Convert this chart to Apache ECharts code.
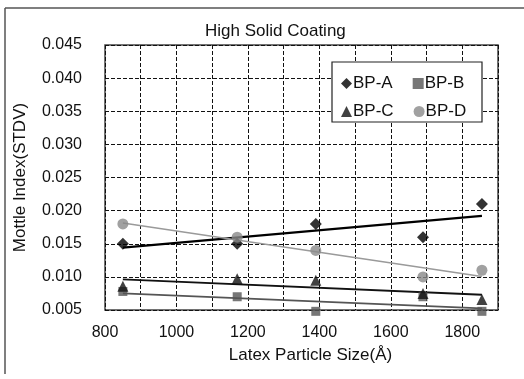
<!DOCTYPE html>
<html>
<head>
<meta charset="utf-8">
<script src="https://cdn.jsdelivr.net/npm/echarts@6/dist/echarts.min.js"></script>
<style>
html,body{margin:0;padding:0;background:#fff;}
#chart{width:524px;height:379px;}
</style>
</head>
<body>
<div id="chart"></div>
<script>
// Data
var particleSize = [850, 1170, 1390, 1690, 1855];
var bpA = [0.015, 0.015, 0.018, 0.016, 0.021];
var bpB = [0.0078, 0.007, 0.0048, 0.007, 0.0048];
var bpC = [0.0086, 0.0097, 0.0095, 0.0075, 0.0066];
var bpD = [0.018, 0.016, 0.014, 0.010, 0.011];
var seriesNames = ['BP-A', 'BP-B', 'BP-C', 'BP-D'];
var yTicks = [0.005, 0.010, 0.015, 0.020, 0.025, 0.030, 0.035, 0.040, 0.045];
var xLabelTicks = [800, 1000, 1200, 1400, 1600, 1800];

// linear trend line (least squares) endpoints from the data
function trend(xs, ys) {
  var n = xs.length, mx = 0, my = 0;
  for (var i = 0; i < n; i++) { mx += xs[i]; my += ys[i]; }
  mx /= n; my /= n;
  var sxy = 0, sxx = 0;
  for (var j = 0; j < n; j++) { sxy += (xs[j] - mx) * (ys[j] - my); sxx += (xs[j] - mx) * (xs[j] - mx); }
  var b = sxy / sxx, a = my - b * mx;
  var x0 = xs[0], x1 = xs[n - 1];
  return [[x0, a + b * x0], [x1, a + b * x1]];
}
function pts(xs, ys) { return xs.map(function (x, i) { return [x, ys[i]]; }); }

var font = 'Liberation Sans, Arial, sans-serif';
var styles = [
  {color: '#000000', symbol: 'diamond', size: 12, lw: 2.2, lc: '#000000'},
  {color: '#555555', symbol: 'rect', size: 9, lw: 1.8, lc: '#555555'},
  {color: '#111111', symbol: 'triangle', size: 11, lw: 1.8, lc: '#111111'},
  {color: '#8a8a8a', symbol: 'circle', size: 11, lw: 1.5, lc: '#9a9a9a'}
];
var dataSets = [bpA, bpB, bpC, bpD];

var series = [];
dataSets.forEach(function (ys, k) {
  var st = styles[k];
  series.push({
    name: seriesNames[k] + ' trend', type: 'line', data: trend(particleSize, ys),
    showSymbol: false, symbol: 'none', silent: true, z: 3, clip: false,
    lineStyle: {color: st.lc, width: st.lw}
  });
});
dataSets.forEach(function (ys, k) {
  var st = styles[k];
  series.push({
    name: seriesNames[k], type: 'scatter', data: pts(particleSize, ys),
    symbol: st.symbol, symbolSize: st.size, z: 4, clip: false,
    itemStyle: {color: st.color}
  });
});

var chart = echarts.init(document.getElementById('chart'), null, {renderer: 'canvas'});
chart.setOption({
  animation: false,
  backgroundColor: '#ffffff',
  title: {
    text: 'High Solid Coating', left: 200, top: 18,
    textStyle: {fontFamily: font, fontSize: 17, fontWeight: 'normal', color: '#111'}
  },
  graphic: [
    {type: 'line', shape: {x1: 5, y1: 8, x2: 524, y2: 8}, style: {stroke: '#555', lineWidth: 1.5}, z: 0},
    {type: 'line', shape: {x1: 5, y1: 8, x2: 5, y2: 374}, style: {stroke: '#555', lineWidth: 1.5}, z: 0},
    {type: 'rect', shape: {x: 332, y: 62, width: 150, height: 60}, style: {fill: '#fff', stroke: '#222', lineWidth: 1.2}, z: 100}
  ],
  legend: [
    {data: ['BP-A', 'BP-B'], left: 336, top: 70, itemGap: 20, itemWidth: 11, itemHeight: 11,
     textStyle: {fontFamily: font, fontSize: 17, color: '#111', padding: [0, 0, 0, -4]}, z: 200},
    {data: ['BP-C', 'BP-D'], left: 336, top: 98, itemGap: 20, itemWidth: 11, itemHeight: 11,
     textStyle: {fontFamily: font, fontSize: 17, color: '#111', padding: [0, 0, 0, -4]}, z: 200}
  ],
  grid: {left: 105, right: 26, top: 45, bottom: 69, show: true, borderColor: '#444', borderWidth: 1.5, backgroundColor: 'transparent'},
  xAxis: {
    type: 'value', min: 800, max: 1900, interval: 100,
    name: 'Latex Particle Size(\u00C5)', nameLocation: 'middle', nameGap: 37,
    nameTextStyle: {fontFamily: font, fontSize: 17, color: '#111', padding: [0, 0, 0, 18]},
    axisLine: {show: false}, axisTick: {show: false},
    axisLabel: {
      margin: 15, fontFamily: font, fontSize: 16, color: '#111',
      formatter: function (v) { return xLabelTicks.indexOf(v) >= 0 ? String(v) : ''; }
    },
    splitLine: {show: true, lineStyle: {color: '#111', type: [4, 2], width: 1}}
  },
  yAxis: {
    type: 'value', min: yTicks[0], max: yTicks[yTicks.length - 1], interval: 0.005,
    name: 'Mottle Index(STDV)', nameLocation: 'middle', nameGap: 76,
    nameTextStyle: {fontFamily: font, fontSize: 17, color: '#111'},
    axisLine: {show: false}, axisTick: {show: false},
    axisLabel: {margin: 23, fontFamily: font, fontSize: 16, color: '#111',
      formatter: function (v) { return v.toFixed(3); }},
    splitLine: {show: true, lineStyle: {color: '#111', type: [4, 2], width: 1}}
  },
  series: series
});
</script>
</body>
</html>
